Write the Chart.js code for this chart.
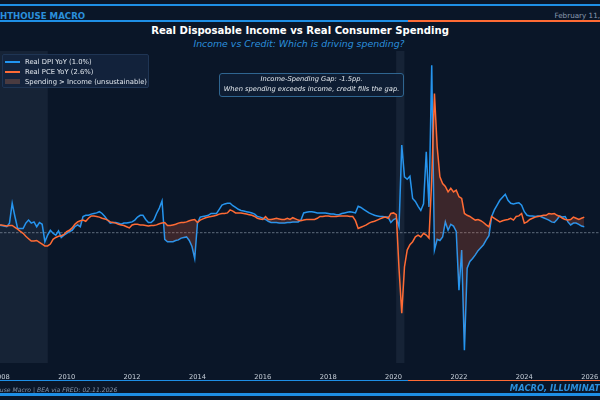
<!DOCTYPE html>
<html>
<head>
<meta charset="utf-8">
<script src="https://cdn.jsdelivr.net/npm/chart.js@4.4.1/dist/chart.umd.min.js"></script>
<style>
  html, body { margin: 0; padding: 0; background: #0a1628; }
  #frame { position: relative; width: 600px; height: 400px; overflow: hidden; background: #0a1628; font-family: "DejaVu Sans", sans-serif; }
  .abs { position: absolute; white-space: nowrap; }
  .rule { position: absolute; left: 0; width: 600px; }
  #chartWrap { position: absolute; left: -40px; top: 51px; width: 680px; height: 330px; }
  #legend { position: absolute; left: 2px; top: 54px; width: 145px; height: 32px; background: rgba(20, 36, 62, 0.85); border: 1px solid #1f3554; border-radius: 2px; }
  .lrow { position: absolute; left: 0; width: 145px; height: 10px; font-size: 6.8px; line-height: 10px; color: #e2e8ef; white-space: nowrap; }
  .lrow span.mk { position: absolute; left: 2px; }
  .lrow span.tx { position: absolute; left: 22px; top: 0; white-space: nowrap; }
  #note { position: absolute; left: 219px; top: 73px; width: 183px; height: 21px; border: 1px solid #2f6590; border-radius: 3px; background: rgba(14, 30, 52, 0.9); color: #e8edf2; font-style: italic; font-size: 6.7px; line-height: 9.6px; text-align: center; padding-top: 1px; white-space: nowrap; }
</style>
</head>
<body>
<div id="frame">
  <div class="rule" style="top:3.5px;height:2px;background:#1e8fe6"></div>
  <div class="abs" style="left:-15.7px;top:11px;font-size:8.6px;line-height:10px;font-weight:bold;color:#2a8fdc">LIGHTHOUSE MACRO</div>
  <div class="abs" style="right:-20.6px;top:11px;font-size:7.2px;line-height:10px;color:#8b9bb0">February 11, 2026</div>
  <div class="rule" style="top:20.3px;height:1.4px;background:linear-gradient(to right,#1e8fe6 0,#1e8fe6 408px,#ff6b35 408px,#ff6b35 600px)"></div>
  <div class="abs" style="left:0;width:600px;top:25px;font-size:10.1px;line-height:12px;font-weight:bold;color:#ffffff;text-align:center">Real Disposable Income vs Real Consumer Spending</div>
  <div class="abs" style="left:0;width:598px;top:37.5px;font-size:9.4px;line-height:11px;font-style:italic;color:#2a8fdc;text-align:center">Income vs Credit: Which is driving spending?</div>

  <div id="chartWrap"><canvas id="chart" width="680" height="330"></canvas></div>

  <div id="legend">
    <div class="lrow" style="top:1.5px"><span class="mk" style="top:4px;width:15px;height:2px;background:#2196f3"></span><span class="tx">Real DPI YoY (1.0%)</span></div>
    <div class="lrow" style="top:11.5px"><span class="mk" style="top:4px;width:15px;height:2px;background:#ff6b35"></span><span class="tx">Real PCE YoY (2.6%)</span></div>
    <div class="lrow" style="top:21.5px"><span class="mk" style="top:2.5px;width:15px;height:5px;background:#4a3b40"></span><span class="tx">Spending &gt; Income (unsustainable)</span></div>
  </div>

  <div id="note">Income-Spending Gap: -1.5pp.<br>When spending exceeds income, credit fills the gap.</div>

  <div class="rule" style="top:380px;height:1.4px;background:linear-gradient(to right,#1e8fe6 0,#1e8fe6 408px,#ff6b35 408px,#ff6b35 600px)"></div>
  <div class="abs" style="left:-23px;top:384.5px;font-size:6.1px;line-height:9px;font-style:italic;color:#8594a8">Lighthouse Macro | BEA via FRED: 02.11.2026</div>
  <div class="abs" style="right:-15.9px;top:383px;font-size:8.4px;line-height:10px;font-weight:bold;font-style:italic;color:#2a8fdc">MACRO, ILLUMINATED.</div>
  <div class="rule" style="top:393.3px;height:2.3px;background:#1e8fe6"></div>
</div>

<script>
// monthly series, first value = Dec 2007
var startYear = 2007;
var startMonth = 12;

// Real disposable personal income, YoY %
var dpiYoY = [
  1.3,
  1.2, 1.1, 1.0, 1.6, 4.9, 2.7, 0.7, 0.7, 0.7, 1.6, 2.1, 1.6,         // 2008
  1.8, 1.0, 1.7, 1.4, -1.5, -0.4, 0.4, -0.1, -0.4, 0.3, -0.8, -0.4,   // 2009
  -0.1, 0.2, 0.4, 1.0, 1.3, 1.0, 2.7, 2.9, 2.9, 3.1, 3.2, 3.3,        // 2010
  3.5, 3.2, 2.7, 2.1, 1.6, 1.7, 1.7, 1.6, 1.4, 1.6, 1.6, 1.7,         // 2011
  1.8, 2.1, 2.6, 2.9, 2.9, 2.2, 1.7, 1.7, 2.1, 3.2, 4.1, 5.3,         // 2012
  -1.1, -1.5, -1.5, -1.5, -1.3, -1.2, -0.9, -0.8, -0.7, -1.3, -2.3, -4.3, // 2013
  1.6, 2.6, 2.7, 2.8, 2.9, 3.2, 3.2, 3.2, 3.9, 4.6, 4.8, 4.9,         // 2014
  4.9, 4.5, 4.2, 3.9, 3.7, 3.6, 3.5, 3.4, 3.3, 3.1, 2.7, 2.6,         // 2015
  2.4, 2.2, 1.9, 1.7, 1.7, 1.7, 1.6, 1.6, 1.6, 1.7, 1.7, 1.8,         // 2016
  1.8, 1.8, 2.1, 3.3, 3.4, 3.5, 3.5, 3.4, 3.3, 3.3, 3.3, 3.3,         // 2017
  3.2, 3.1, 3.1, 3.0, 3.0, 3.2, 3.3, 3.4, 3.5, 3.4, 3.3, 4.4,         // 2018
  4.2, 3.9, 3.6, 3.3, 3.1, 2.9, 2.8, 2.7, 2.7, 2.6, 2.6, 1.7,         // 2019
  2.2, 2.4, 1.0, 14.6, 9.3, 8.9, 9.4, 5.7, 5.2, 4.4, 3.7, 4.8,        // 2020
  13.5, 4.3, 27.9, -2.9, -1.1, -1.3, -0.7, 1.8, 0.4, 1.4, 1.1, 0.2,   // 2021
  -9.6, -2.9, -19.6, -5.9, -4.8, -4.3, -3.7, -3.0, -2.5, -2.0, -1.2, -0.5, // 2022
  2.7, 3.8, 4.6, 5.4, 5.9, 6.4, 5.4, 4.9, 4.8, 4.9, 5.0, 4.6,         // 2023
  3.5, 2.9, 2.8, 2.8, 2.7, 2.8, 2.7, 2.5, 2.3, 2.1, 1.8, 1.7,         // 2024
  2.2, 2.8, 2.6, 2.7, 1.8, 1.3, 1.6, 1.6, 1.4, 1.1, 1.0               // 2025
];

// Real personal consumption expenditures, YoY %
var pceYoY = [
  1.3,
  1.3, 1.2, 1.1, 1.2, 1.2, 0.9, 0.6, 0.2, -0.1, -0.6, -1.0, -1.4,     // 2008
  -1.4, -1.3, -1.6, -1.9, -2.2, -2.2, -1.9, -1.1, -0.8, -0.6, -0.5, -0.3, // 2009
  0.2, 0.4, 0.8, 1.4, 1.8, 2.0, 2.1, 1.9, 2.4, 2.8, 2.8, 2.7,         // 2010
  2.6, 2.4, 2.3, 2.1, 1.8, 1.7, 1.6, 1.4, 1.3, 1.2, 1.0, 0.8,         // 2011
  1.3, 1.4, 1.4, 1.3, 1.3, 1.2, 1.1, 1.2, 1.2, 1.3, 1.5, 1.6,         // 2012
  1.7, 1.2, 1.2, 1.3, 1.4, 1.6, 1.7, 1.7, 1.8, 2.0, 2.1, 2.2,         // 2013
  1.7, 2.1, 2.3, 2.5, 2.6, 2.7, 2.8, 2.9, 3.1, 3.2, 3.2, 3.3,         // 2014
  3.8, 3.6, 3.3, 3.3, 3.3, 3.2, 3.1, 3.0, 2.9, 2.7, 2.4, 2.3,         // 2015
  2.2, 2.7, 2.2, 2.2, 2.3, 2.4, 2.3, 2.2, 2.2, 2.4, 2.2, 2.5,         // 2016
  2.3, 2.1, 2.0, 2.1, 2.2, 2.2, 2.2, 2.2, 2.4, 2.7, 2.7, 2.8,         // 2017
  2.8, 2.7, 2.7, 2.7, 2.8, 2.8, 2.8, 2.8, 2.7, 2.7, 2.0, 0.7,         // 2018
  0.9, 1.1, 1.3, 1.6, 1.8, 1.9, 2.1, 2.3, 2.5, 2.6, 2.4, 3.2,         // 2019
  3.3, 3.0, -6.0, -13.4, -5.7, -2.9, -2.0, -1.5, -0.7, -0.4, -0.7, -0.1, // 2020
  -0.4, -0.9, 8.8, 23.2, 14.3, 9.3, 8.2, 7.7, 6.8, 7.4, 6.8, 7.1,     // 2021
  6.0, 5.7, 3.2, 2.9, 2.7, 2.4, 2.1, 2.2, 2.0, 1.7, 1.3, 1.0,         // 2022
  2.7, 2.4, 2.1, 1.8, 2.0, 2.1, 2.2, 2.4, 2.1, 2.7, 2.8, 3.2,         // 2023
  1.6, 1.8, 2.2, 2.4, 2.6, 2.7, 2.8, 2.9, 2.9, 3.2, 3.1, 3.2,         // 2024
  2.9, 2.7, 2.4, 2.2, 2.1, 2.2, 2.6, 2.4, 2.2, 2.4, 2.6               // 2025
];

var tickYears = [2008, 2010, 2012, 2014, 2016, 2018, 2020, 2022, 2024, 2026];

// NBER recessions, decimal years
var recessions = [[2007.92, 2009.42], [2020.08, 2020.33]];

var BLUE = '#2196f3';
var ORANGE = '#ff6b35';

function toPoints(values) {
  var t0 = startYear + (startMonth - 1) / 12;
  return values.map(function (v, i) { return { x: t0 + i / 12, y: v }; });
}

var backdrop = {
  id: 'backdrop',
  beforeDatasetsDraw: function (chart) {
    var c = chart.ctx, area = chart.chartArea, xs = chart.scales.x, ys = chart.scales.y;
    c.save();
    c.fillStyle = 'rgba(140, 160, 190, 0.10)';
    recessions.forEach(function (r) {
      var a = xs.getPixelForValue(r[0]), b = xs.getPixelForValue(r[1]);
      c.fillRect(a, area.top, b - a, area.bottom - area.top);
    });
    var y0 = ys.getPixelForValue(0);
    c.strokeStyle = 'rgba(160, 172, 188, 0.7)';
    c.lineWidth = 0.8;
    c.setLineDash([2.5, 1.5]);
    c.beginPath();
    c.moveTo(area.left, y0);
    c.lineTo(area.right, y0);
    c.stroke();
    c.restore();
  }
};

document.addEventListener('DOMContentLoaded', function () {
    var ctx = document.getElementById('chart').getContext('2d');

    var myChart = new Chart(ctx, {
        type: 'line',
        data: {
            datasets: [{
                label: 'Real DPI YoY (1.0%)',
                data: toPoints(dpiYoY),
                borderColor: BLUE,
                borderWidth: 1.5,
                pointRadius: 0,
                tension: 0,
                order: 2
            }, {
                label: 'Real PCE YoY (2.6%)',
                data: toPoints(pceYoY),
                borderColor: ORANGE,
                borderWidth: 1.5,
                pointRadius: 0,
                tension: 0,
                fill: { target: 0, above: 'rgba(255, 107, 53, 0.20)', below: 'rgba(0, 0, 0, 0)' },
                order: 1
            }]
        },
        options: {
            responsive: false,
            animation: false,
            layout: { padding: 0, autoPadding: false },
            plugins: {
                legend: { display: false },
                tooltip: { enabled: false }
            },
            scales: {
                x: {
                    type: 'linear',
                    min: 2006.7366,
                    max: 2027.538,
                    grid: { display: false },
                    border: { display: false },
                    afterFit: function (s) { s.height = 18; },
                    afterBuildTicks: function (s) {
                        s.ticks = tickYears.map(function (v) { return { value: v }; });
                    },
                    ticks: {
                        color: '#c9d1db',
                        font: { family: 'DejaVu Sans', size: 6.7 },
                        padding: 2,
                        maxRotation: 0,
                        autoSkip: false,
                        callback: function (v) { return String(v); }
                    }
                },
                y: {
                    display: false,
                    min: -21.717,
                    max: 30.283
                }
            }
        },
        plugins: [backdrop]
    });
});
</script>
</body>
</html>
